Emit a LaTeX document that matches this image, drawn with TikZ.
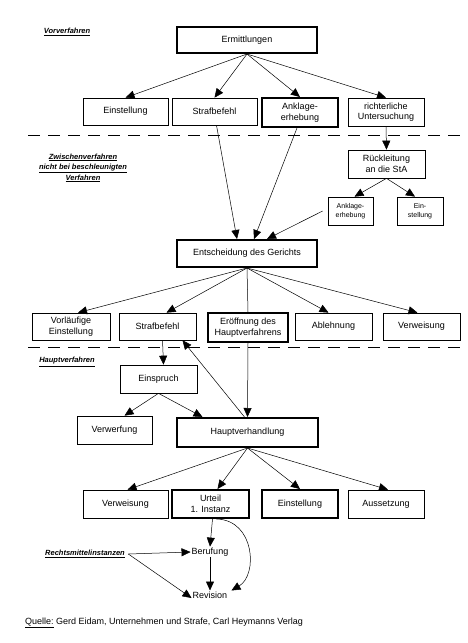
\documentclass[tikz,border=0pt]{standalone}
\usepackage{fontspec}
\setmainfont{Liberation Sans}
\usetikzlibrary{arrows.meta}
\begin{document}
\begin{tikzpicture}[x=1pt,y=-1pt,
  box/.style={draw,line width=0.7pt,align=center,inner sep=1pt,font=\fontsize{9}{10.5}\selectfont},
  thick box/.style={box,line width=2pt},
  arr/.style={line width=0.5pt,-{Triangle[length=9pt,width=8pt]}},
  ln/.style={line width=0.5pt},
  sect/.style={font=\fontsize{7.5}{10.5}\selectfont\bfseries\itshape,align=center},
  dash line/.style={line width=0.7pt,dash pattern=on 12pt off 8pt},
  plain/.style={font=\fontsize{9}{10.5}\selectfont,inner sep=1pt}]
\useasboundingbox (0,0) rectangle (467,643);
\fill[white] (0,0) rectangle (467,643);
% dashed separators
\draw[dash line] (28,135) -- (467,135);
\draw[dash line] (28,347) -- (467,347);
% section labels
\node[sect] (lvor) at (67,32) {\underline{Vorverfahren}};
\node[sect] (lzw) at (83,168) {\underline{Zwischenverfahren}\\\underline{nicht bei beschleunigten}\\\underline{Verfahren}};
\node[sect] (lhaupt) at (67,362) {\underline{Hauptverfahren}};
\node[sect] (lrm) at (85,554) {\underline{Rechtsmittelinstanzen}};
% boxes
\node[thick box,minimum width=140,minimum height=26] (erm) at (247,40) {Ermittlungen};
\node[box,minimum width=85,minimum height=27] (ein1) at (125.5,111.5) {Einstellung};
\node[box,minimum width=85,minimum height=27] (str1) at (214.5,111.5) {Strafbefehl};
\node[thick box,minimum width=76,minimum height=29] (ank1) at (300,112.5) {Anklage-\\erhebung};
\node[box,minimum width=76,minimum height=28] (ric) at (386,112) {richterliche\\Untersuchung};
\node[box,minimum width=77,minimum height=28] (rue) at (386.5,164) {Rückleitung\\an die StA};
\node[box,minimum width=45,minimum height=28,font=\fontsize{7}{9}\selectfont] (ank2) at (350.5,211) {Anklage-\\erhebung};
\node[box,minimum width=46,minimum height=28,font=\fontsize{7}{9}\selectfont] (ein2) at (420,211) {Ein-\\stellung};
\node[thick box,minimum width=140,minimum height=27] (ent) at (247,253.5) {Entscheidung des Gerichts};
\node[box,minimum width=78,minimum height=27] (vor) at (71,326.5) {Vorläufige\\Einstellung};
\node[box,minimum width=77,minimum height=27] (str2) at (157.5,326.5) {Strafbefehl};
\node[thick box,minimum width=80,minimum height=29] (eroe) at (248,327.5) {Eröffnung des\\Hauptverfahrens};
\node[box,minimum width=77,minimum height=27] (abl) at (333.5,326.5) {Ablehnung};
\node[box,minimum width=77,minimum height=27] (ver1) at (421.5,326.5) {Verweisung};
\node[box,minimum width=77,minimum height=28] (einsp) at (158.5,379) {Einspruch};
\node[box,minimum width=75,minimum height=28] (verw) at (114.5,430) {Verwerfung};
\node[thick box,minimum width=141,minimum height=29] (hv) at (247.5,432.5) {Hauptverhandlung};
\node[box,minimum width=85,minimum height=28] (ver2) at (125.5,504) {Verweisung};
\node[thick box,minimum width=77,minimum height=28] (urt) at (210.5,504) {Urteil\\1. Instanz};
\node[thick box,minimum width=76,minimum height=28] (ein3) at (300,504) {Einstellung};
\node[box,minimum width=76,minimum height=28] (aus) at (386,504) {Aussetzung};
\node[plain] (ber) at (210,552) {Berufung};
\node[plain] (rev) at (210,595) {Revision};
\node[plain,anchor=west] (quelle) at (24,623) {\underline{Quelle:} Gerd Eidam, Unternehmen und Strafe, Carl Heymanns Verlag};
% connectors Vorverfahren
\draw[arr] (erm.south) -- (ein1.north);
\draw[arr] (erm.south) -- (str1.north);
\draw[arr] (erm.south) -- (ank1.north);
\draw[arr] (erm.south) -- (ric.north);
% Zwischenverfahren
\draw[arr] ([xshift=2]str1.south) -- ([xshift=-10]ent.north);
\draw[arr] ([xshift=-3]ank1.south) -- ([xshift=7]ent.north);
\draw[arr] ([xshift=-5]ank2.west) -- ([xshift=20]ent.north);
\draw[arr] (ric.south) -- (rue.north);
\draw[arr] (rue.south) -- ([xshift=4]ank2.north);
\draw[arr] (rue.south) -- ([xshift=-5]ein2.north);
% Entscheidung
\draw[arr] (ent.south) -- ([xshift=7]vor.north);
\draw[arr] (ent.south) -- ([xshift=9]str2.north);
\draw[ln] (ent.south) -- (eroe.north);
\draw[arr] (ent.south) -- ([xshift=-5]abl.north);
\draw[arr] (ent.south) -- ([xshift=-4]ver1.north);
% Hauptverfahren
\draw[arr] ([xshift=5]str2.south) -- ([xshift=5]einsp.north);
\draw[arr] ([xshift=-3]hv.north) -- ([xshift=25]str2.south);
\draw[arr] (eroe.south) -- (hv.north);
\draw[arr] (einsp.south) -- ([xshift=10]verw.north);
\draw[arr] (einsp.south) -- ([xshift=-45]hv.north);
\draw[arr] (hv.south) -- ([xshift=2]ver2.north);
\draw[arr] (hv.south) -- ([xshift=7]urt.north);
\draw[arr] (hv.south) -- (ein3.north);
\draw[arr] (hv.south) -- ([xshift=2]aus.north);
% Rechtsmittel
\draw[arr] ([xshift=2]urt.south) -- (ber.north);
\draw[arr] (ber.south) -- (rev.north);
\draw[arr] ([xshift=6]urt.south) .. controls (255,520) and (258,575) .. ([xshift=3]rev.north east);
\draw[arr] (lrm.east) -- (ber.west);
\draw[arr] (lrm.east) -- ([yshift=-3]rev.west);
\end{tikzpicture}
\end{document}
